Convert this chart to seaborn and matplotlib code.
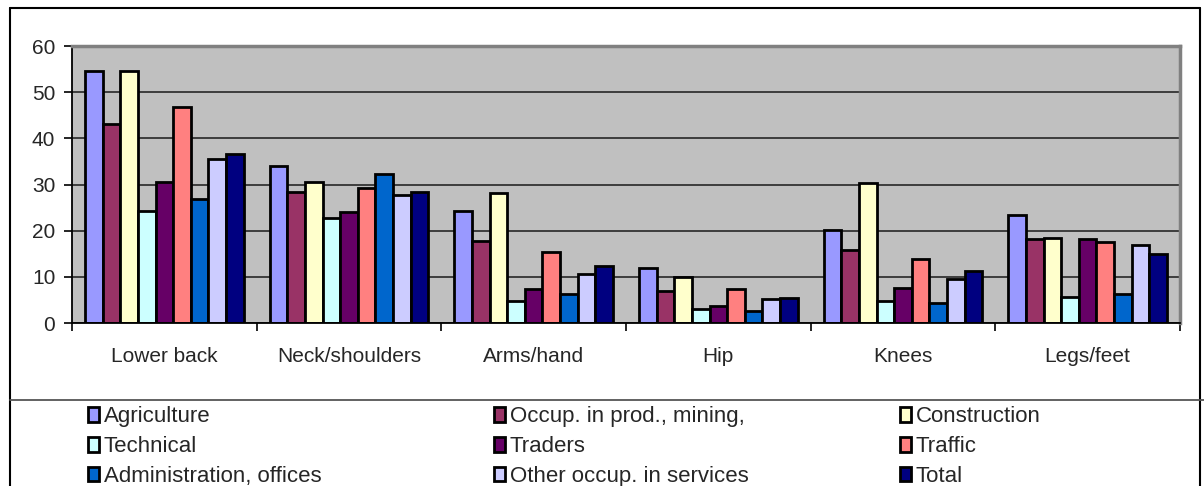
import numpy as np
import pandas as pd
import matplotlib
matplotlib.use("Agg")
import matplotlib.pyplot as plt
import seaborn as sns
from matplotlib.patches import Patch
from matplotlib.lines import Line2D

body_parts = ["Lower back", "Neck/shoulders", "Arms/hand", "Hip", "Knees", "Legs/feet"]
occupations = ["Agriculture", "Occup. in prod., mining,", "Construction",
               "Technical", "Traders", "Traffic",
               "Administration, offices", "Other occup. in services", "Total"]

agriculture = [54.5, 34.0, 24.3, 11.9, 20.1, 23.4]
occup_prod = [43.2, 28.4, 17.7, 7.0, 15.9, 18.3]
construction = [54.5, 30.6, 28.1, 9.9, 30.4, 18.5]
technical = [24.3, 22.7, 4.8, 3.1, 4.8, 5.6]
traders = [30.5, 24.0, 7.3, 3.6, 7.6, 18.3]
traffic = [46.8, 29.2, 15.4, 7.3, 13.9, 17.5]
administration = [26.8, 32.3, 6.3, 2.6, 4.3, 6.2]
other_services = [35.6, 27.7, 10.6, 5.3, 9.5, 17.0]
total = [36.5, 28.4, 12.3, 5.4, 11.3, 15.0]

colors = ["#9999FF", "#993366", "#FFFFCC", "#CCFFFF", "#660066",
          "#FF8080", "#0066CC", "#CCCCFF", "#000080"]

series = [agriculture, occup_prod, construction, technical, traders,
          traffic, administration, other_services, total]
rows = []
for occ, vals in zip(occupations, series):
    for part, v in zip(body_parts, vals):
        rows.append({"part": part, "occupation": occ, "value": v})
df = pd.DataFrame(rows)

sns.set_theme(style="white")
plt.rcParams["font.family"] = ["Liberation Sans", "DejaVu Sans"]

W, H = 1204, 486
fig = plt.figure(figsize=(W / 100, H / 100), dpi=100)
left, right, top, bottom = 72, 1180, 46, 323
ax = fig.add_axes([left / W, 1 - bottom / H, (right - left) / W, (bottom - top) / H])

sns.barplot(data=df, x="part", y="value", hue="occupation",
            order=body_parts, hue_order=occupations,
            palette=colors, edgecolor="black", linewidth=2.0,
            width=0.86, gap=0, legend=False, ax=ax, errorbar=None,
            saturation=1)

ax.set_facecolor("#C0C0C0")
ax.set_xlim(-0.5, len(body_parts) - 0.5)
ax.set_ylim(0, 60)
ax.set_yticks(np.arange(0, 61, 10))
ax.yaxis.grid(True, color="#333333", linewidth=1.3)
ax.set_axisbelow(True)
ax.set_xlabel("")
ax.set_ylabel("")

for s in ["top", "right"]:
    ax.spines[s].set_color("#808080")
    ax.spines[s].set_linewidth(2.5)
for s in ["left", "bottom"]:
    ax.spines[s].set_color("black")
    ax.spines[s].set_linewidth(1.3)

ax.set_xticks(np.arange(-0.5, len(body_parts), 1), minor=True)
ax.tick_params(axis="x", which="major", length=0, pad=17, labelsize=15)
ax.tick_params(axis="x", which="minor", length=6, width=1.2, color="black", direction="out", bottom=True)
ax.tick_params(axis="y", which="major", length=6, width=1.2, color="black", direction="out",
               left=True, pad=6, labelsize=15)

# Outer frame lines
def fx(x):
    return x / W
def fy(y):
    return 1 - y / H
fig.add_artist(Line2D([fx(9.5), fx(1200)], [fy(8.5), fy(8.5)], transform=fig.transFigure, color="black", lw=1.5))
fig.add_artist(Line2D([fx(9.5), fx(9.5)], [fy(8.5), fy(486)], transform=fig.transFigure, color="black", lw=1.5))
fig.add_artist(Line2D([fx(1200), fx(1200)], [fy(8.5), fy(486)], transform=fig.transFigure, color="black", lw=1.5))
fig.add_artist(Line2D([fx(9.5), fx(1204)], [fy(400), fy(400)], transform=fig.transFigure, color="#555555", lw=1.3))

# Legend: three columns, row-major order
col_x = [88, 494, 900]
for c in range(3):
    handles = []
    for r in range(3):
        i = r * 3 + c
        handles.append(Patch(facecolor=colors[i], edgecolor="black", linewidth=2.0, label=occupations[i]))
    fig.legend(handles=handles, loc="upper left",
               bbox_to_anchor=(fx(col_x[c]), fy(406)), bbox_transform=fig.transFigure,
               frameon=False, fontsize=16, handlelength=0.5, handleheight=0.65,
               handletextpad=0.2, labelspacing=0.40, borderpad=0.0, borderaxespad=0.0)

fig.savefig("out.png", dpi=100, facecolor="white")
